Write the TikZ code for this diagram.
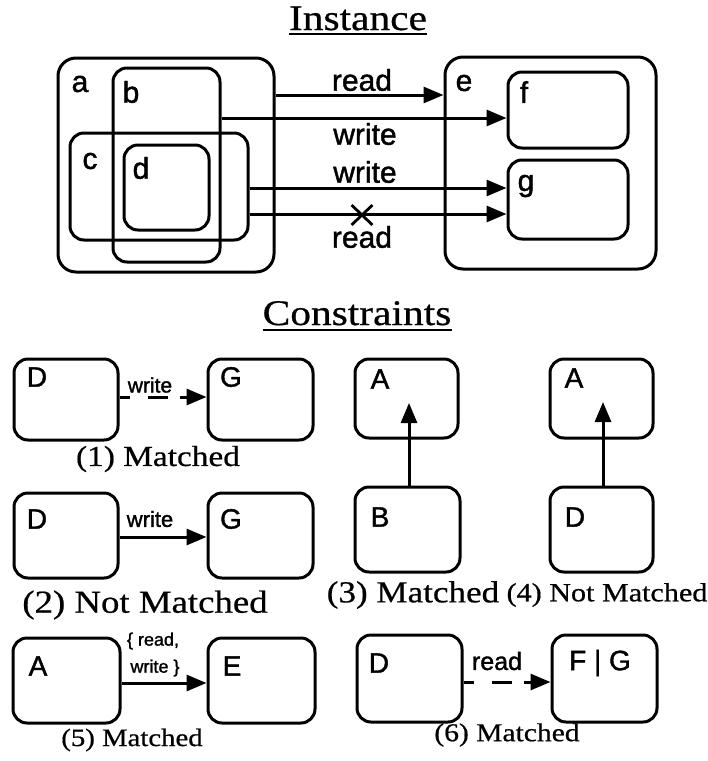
\documentclass[tikz,border=0pt]{standalone}
\usepackage{fontspec}
\setmainfont{Liberation Serif}
\newfontfamily\capfont[FakeStretch=1.15,FakeBold=0.6]{Liberation Serif}
\newfontfamily\lblfont[FakeBold=1.4]{Liberation Sans}
\usetikzlibrary{arrows.meta,shapes.misc,calc}
\tikzset{
  box/.style={draw, line width=3pt, rounded corners=14pt, inner sep=0pt},
  bigbox/.style={box, rounded corners=18pt},
  lbl/.style={inner sep=0pt, anchor=center, font={\lblfont\fontsize{30}{31}\selectfont}},
  clbl/.style={inner sep=0pt, anchor=center, font={\lblfont\fontsize{28}{29}\selectfont}},
  elbl/.style={inner sep=0pt, anchor=center, font={\lblfont\fontsize{30}{31}\selectfont}},
  arr/.style={line width=3pt, -{Triangle[length=20pt,width=16pt]}},
  dasharr/.style={arr, dash pattern=on 10pt off 18pt on 20pt off 12pt},
  title/.style={inner sep=0pt, anchor=base, font={\capfont\fontsize{36}{38}\selectfont}},
  capt/.style={inner sep=0pt, anchor=center},
  uline/.style={line width=2.2pt}
}
\begin{document}
\begin{tikzpicture}[x=1pt,y=-1pt]
\useasboundingbox (0,0) rectangle (708,761);

% ---------- Instance ----------
\node[title] (tinst) at (358,30) {Instance};
\draw[uline] ([yshift=-4pt]tinst.base west) -- ([yshift=-4pt]tinst.base east);

\node[bigbox, minimum width=216pt, minimum height=214pt] (a) at (166,165) {};
\node[box, minimum width=107pt, minimum height=194pt] (b) at (166.5,165) {};
\node[box, minimum width=178pt, minimum height=107pt] (c) at (159,186.5) {};
\node[box, minimum width=85pt, minimum height=85pt] (d) at (166.5,187.5) {};
\node[bigbox, minimum width=211pt, minimum height=212pt] (e) at (550.5,163) {};
\node[box, minimum width=120pt, minimum height=76pt] (f) at (568,110) {};
\node[box, minimum width=120pt, minimum height=79pt] (g) at (568,199.5) {};

\node[lbl] (la) at (80,84) {a};
\node[lbl] (lb) at (131,92) {b};
\node[lbl] (lc) at (90,161) {c};
\node[lbl] (ld) at (141,168) {d};
\node[lbl] (le) at (464,83) {e};
\node[lbl] (lf) at (524,92) {f};
\node[lbl] (lg) at (526,186) {g};

\coordinate (y1) at (0,95);
\coordinate (y2) at (0,118);
\coordinate (y3) at (0,188);
\coordinate (y4) at (0,214);
\draw[arr] (a.east |- y1) -- (e.west |- y1);
\draw[arr] (b.east |- y2) -- (f.west |- y2);
\draw[arr] (c.east |- y3) -- (g.west |- y3);
\draw[arr] (c.east |- y4) -- (g.west |- y4);
\node[draw, cross out, line width=2.8pt, minimum width=18pt, minimum height=17pt, inner sep=0pt] (xm) at (362,215) {};

\node[elbl] (e1) at (362,80) {read};
\node[elbl] (e2) at (365,134) {write};
\node[elbl] (e3) at (365,172) {write};
\node[elbl] (e4) at (362,237) {read};

% ---------- Constraints ----------
\node[title] (tcons) at (357,325) {Constraints};
\draw[uline] ([yshift=-5pt]tcons.base west) -- ([yshift=-5pt]tcons.base east);

% (1)
\node[box, minimum width=104pt, minimum height=81pt] (D1) at (66,399.5) {};
\node[box, minimum width=105pt, minimum height=81pt] (G1) at (260.5,399.5) {};
\node[clbl] (lD1) at (37,377) {D};
\node[clbl] (lG1) at (231,377) {G};
\coordinate (c1) at (0,397);
\draw[dasharr] (D1.east |- c1) -- (G1.west |- c1);
\node[inner sep=0pt, font={\lblfont\fontsize{21}{22}\selectfont}] (w1) at (150,385) {write};
\node[capt, font={\capfont\fontsize{29}{30}\selectfont}] (cap1) at (158,459) {(1) Matched};

% (2)
\node[box, minimum width=104pt, minimum height=85pt] (D2) at (66,535.5) {};
\node[box, minimum width=105pt, minimum height=85pt] (G2) at (260.5,535.5) {};
\node[clbl] (lD2) at (37,519) {D};
\node[clbl] (lG2) at (231,519) {G};
\coordinate (c2) at (0,537);
\draw[arr] (D2.east |- c2) -- (G2.west |- c2);
\node[inner sep=0pt, font={\lblfont\fontsize{22}{23}\selectfont}] (w2) at (150,519) {write};
\node[capt, font={\capfont\fontsize{32}{33}\selectfont}] (cap2) at (145,605) {(2) Not Matched};

% (3)
\node[box, minimum width=103pt, minimum height=79pt] (A3) at (406.5,398.5) {};
\node[box, minimum width=105pt, minimum height=85pt] (B3) at (407.5,529.5) {};
\node[clbl] (lA3) at (380,379) {A};
\node[clbl] (lB3) at (380,517) {B};
\coordinate (t3) at (409,403);
\draw[arr] (t3 |- B3.north) -- (t3);
\node[capt, font={\capfont\fontsize{30.5}{31}\selectfont}] (cap3) at (413,595) {(3) Matched};

% (4)
\node[box, minimum width=103pt, minimum height=79pt] (A4) at (601.5,398.5) {};
\node[box, minimum width=103pt, minimum height=85pt] (D4) at (601.5,529.5) {};
\node[clbl] (lA4) at (574,378) {A};
\node[clbl] (lD4) at (575,517) {D};
\coordinate (t4) at (603,402);
\draw[arr] (t4 |- D4.north) -- (t4);
\node[capt, font={\capfont\fontsize{26.2}{27}\selectfont}] (cap4) at (607,595) {(4) Not Matched};

% (5)
\node[box, minimum width=107pt, minimum height=85pt] (A5) at (66.5,680.5) {};
\node[box, minimum width=107pt, minimum height=85pt] (E5) at (261.5,680.5) {};
\node[clbl] (lA5) at (38,666) {A};
\node[clbl] (lE5) at (232,666) {E};
\coordinate (c5) at (0,683);
\draw[arr] (A5.east |- c5) -- (E5.west |- c5);
\node[inner sep=0pt, font={\lblfont\fontsize{18}{19}\selectfont}] (w5a) at (153,641) {\{ read,};
\node[inner sep=0pt, font={\lblfont\fontsize{18}{19}\selectfont}] (w5b) at (155,668) {write \}};
\node[capt, font={\capfont\fontsize{25}{26}\selectfont}] (cap5) at (132,740) {(5) Matched};

% (6)
\node[box, minimum width=105pt, minimum height=87pt] (D6) at (409.5,678.5) {};
\node[box, minimum width=105pt, minimum height=87pt] (FG6) at (604.5,678.5) {};
\node[clbl] (lD6) at (379,663) {D};
\node[clbl] (lFG6) at (600,663) {F | G};
\coordinate (c6) at (0,682);
\draw[dasharr] (D6.east |- c6) -- (FG6.west |- c6);
\node[inner sep=0pt, font={\lblfont\fontsize{25}{26}\selectfont}] (r6) at (497,661) {read};
\node[capt, font={\capfont\fontsize{25.7}{26}\selectfont}] (cap6) at (507,735) {(6) Matched};
\end{tikzpicture}
\end{document}
